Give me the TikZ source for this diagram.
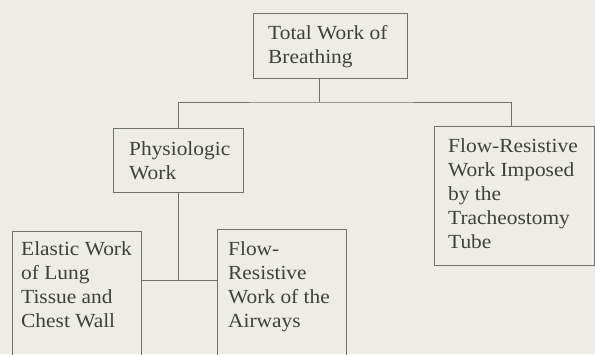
\documentclass[tikz,border=0pt]{standalone}
\usepackage{fontspec}
\setmainfont[FakeStretch=1.07]{Liberation Serif}
\definecolor{bg}{HTML}{EDEDE5}
\definecolor{ln}{HTML}{707070}
\definecolor{tx}{HTML}{404040}
\tikzset{
  boxline/.style={draw=ln, line width=1pt},
  conn/.style={draw=ln, line width=1pt},
  lbl/.style={anchor=north west, inner sep=0pt, align=left, text=tx,
    font=\fontsize{20}{24}\selectfont}
}
\begin{document}
\begin{tikzpicture}[x=1pt,y=-1pt]
\useasboundingbox (0,0) rectangle (595,354);
\fill[bg] (0,0) rectangle (595,354);
\clip (0,0) rectangle (595,354);
% boxes
\node[boxline, minimum width=154pt, minimum height=65pt, anchor=north west, inner sep=0pt] (top) at (253,13) {};
\node[boxline, minimum width=130pt, minimum height=64pt, anchor=north west, inner sep=0pt] (phys) at (113,128) {};
\node[boxline, minimum width=160pt, minimum height=139pt, anchor=north west, inner sep=0pt] (trach) at (434,126) {};
\node[boxline, minimum width=129pt, minimum height=140pt, anchor=north west, inner sep=0pt] (elas) at (12,231) {};
\node[boxline, minimum width=129pt, minimum height=140pt, anchor=north west, inner sep=0pt] (flow) at (217,229) {};
% texts
\node[lbl] (ttop) at (268,22.2) {\strut Total Work of\\Breathing};
\node[lbl] (tphys) at (129,138.2) {\strut Physiologic\\Work};
\node[lbl] (ttrach) at (448,135.2) {\strut Flow-Resistive\\Work Imposed\\by the\\Tracheostomy\\Tube};
\node[lbl] (telas) at (21,238.2) {\strut Elastic Work\\of Lung\\Tissue and\\Chest Wall};
\node[lbl] (tflow) at (228,238.2) {\strut Flow-\\Resistive\\Work of the\\Airways};
% connectors
\coordinate (j1) at (319,102);
\coordinate (j2) at (178,280);
\draw[conn] (top.south -| j1) -- (j1);
\draw[conn] (phys.north) |- (j1) -| (trach.north -| 511,0);
\draw[conn] (phys.south -| j2) -- (j2);
\draw[conn] (elas.east |- j2) -- (flow.west |- j2);
\end{tikzpicture}
\end{document}
